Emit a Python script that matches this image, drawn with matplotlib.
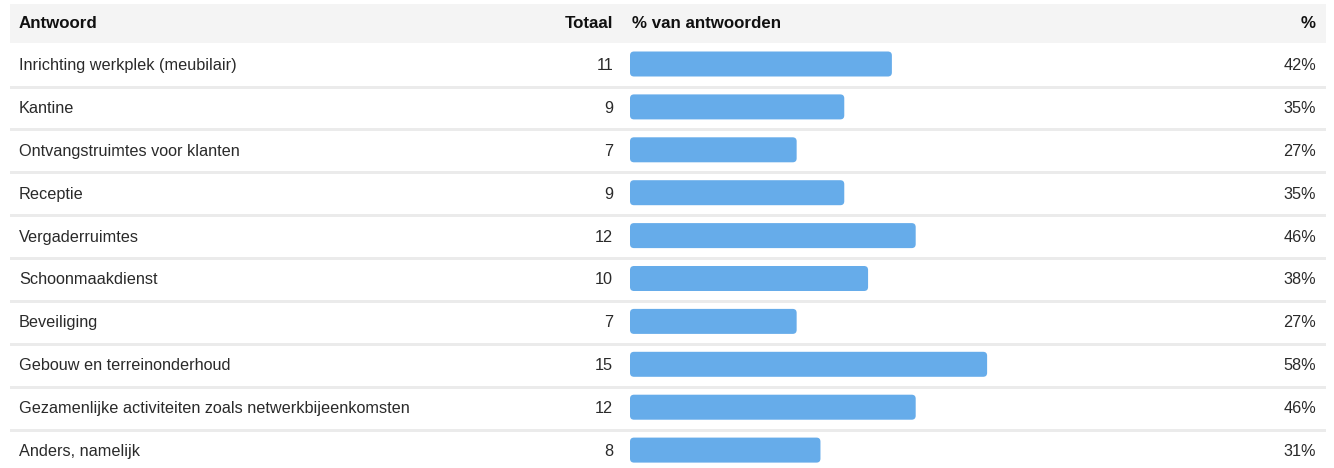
import matplotlib
matplotlib.use("Agg")
import matplotlib.pyplot as plt
from matplotlib.patches import FancyBboxPatch, Rectangle

plt.rcParams['font.family'] = ['Liberation Sans', 'DejaVu Sans']

antwoorden = [
    "Inrichting werkplek (meubilair)",
    "Kantine",
    "Ontvangstruimtes voor klanten",
    "Receptie",
    "Vergaderruimtes",
    "Schoonmaakdienst",
    "Beveiliging",
    "Gebouw en terreinonderhoud",
    "Gezamenlijke activiteiten zoals netwerkbijeenkomsten",
    "Anders, namelijk",
]
totaal = [11, 9, 7, 9, 12, 10, 7, 15, 12, 8]
respondenten = 26
procent = [t / respondenten * 100 for t in totaal]
headers = ["Antwoord", "Totaal", "% van antwoorden", "%"]

W, H = 1334, 468
txt = "#2a2a2a"
bar_color = "#66acea"
sep_color = "#ebebeb"
row0, rowh = 65.5, 42.9
fs, hfs = 11.7, 12.2

fig = plt.figure(figsize=(W / 100, H / 100), dpi=100)
ax = fig.add_axes([0, 0, 1, 1])
ax.set_xlim(0, W)
ax.set_ylim(H, 0)
ax.axis("off")

# header
ax.add_patch(Rectangle((10, 4), 1316, 39, color="#f4f4f4", lw=0))
hy = 24
ax.text(19, hy, headers[0], fontsize=hfs, fontweight="bold", color="#111", va="center")
ax.text(613, hy, headers[1], fontsize=hfs, fontweight="bold", color="#111", va="center", ha="right")
ax.text(632, hy, headers[2], fontsize=hfs, fontweight="bold", color="#111", va="center")
ax.text(1316, hy, headers[3], fontsize=hfs, fontweight="bold", color="#111", va="center", ha="right")

for i, (lab, t, p) in enumerate(zip(antwoorden, totaal, procent)):
    y = row0 + i * rowh
    ax.text(19, y, lab, fontsize=fs, color=txt, va="center")
    ax.text(613, y, str(t), fontsize=fs, color=txt, va="center", ha="right")
    ax.text(1316, y, f"{p:.0f}%", fontsize=fs, color=txt, va="center", ha="right")
    if i < len(antwoorden) - 1:
        ax.add_patch(Rectangle((10, y + 20), 1316, 3, color=sep_color, lw=0))

# bars in percent scale
bx = fig.add_axes([630 / W, 0, 619 / W, 1])
bx.set_xlim(0, 100)
bx.set_ylim(H, 0)
bx.axis("off")
bx.patch.set_alpha(0)
pxu = 619 / 100
for i, p in enumerate(procent):
    y = row0 + i * rowh - 1.5
    bx.add_patch(FancyBboxPatch((0, y - 12.5), p, 25,
                                boxstyle=f"round,pad=0,rounding_size={4 / pxu}",
                                mutation_aspect=pxu, color=bar_color, lw=0))

fig.savefig("out.png", dpi=100)
